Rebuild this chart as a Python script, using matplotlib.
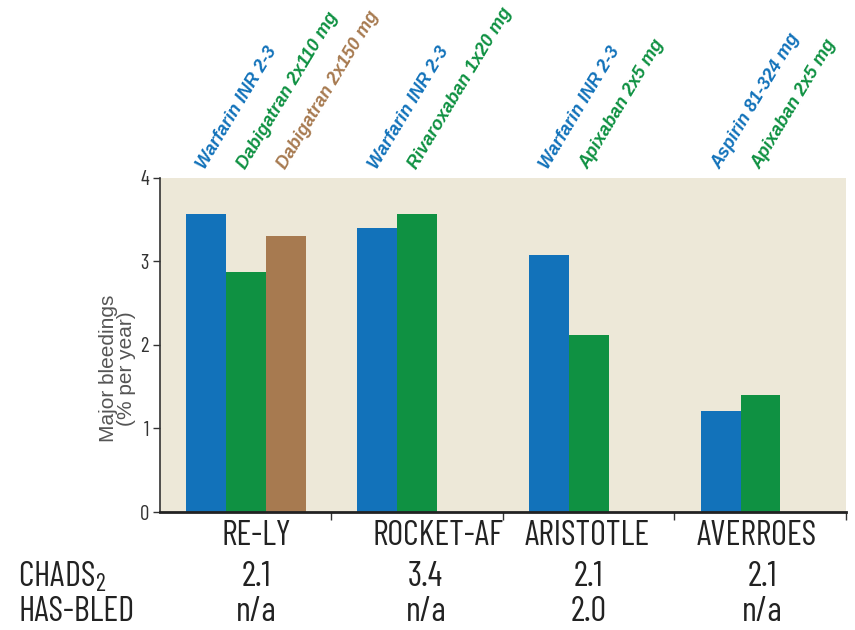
import matplotlib
matplotlib.use("Agg")
import matplotlib.pyplot as plt
import matplotlib.transforms as mtransforms

# Trials and their arms
trials = ["RE-LY", "ROCKET-AF", "ARISTOTLE", "AVERROES"]
arm_labels = [
    ["Warfarin INR 2-3", "Dabigatran 2x110 mg", "Dabigatran 2x150 mg"],
    ["Warfarin INR 2-3", "Rivaroxaban 1x20 mg"],
    ["Warfarin INR 2-3", "Apixaban 2x5 mg"],
    ["Aspirin 81-324 mg", "Apixaban 2x5 mg"],
]
# Major bleedings, % per year
arm_values = [
    [3.57, 2.87, 3.31],
    [3.40, 3.57],
    [3.08, 2.12],
    [1.21, 1.40],
]
arm_kinds = [
    ["ref", "low", "high"],
    ["ref", "low"],
    ["ref", "low"],
    ["ref", "low"],
]
chads2 = ["2.1", "3.4", "2.1", "2.1"]
has_bled = ["n/a", "n/a", "2.0", "n/a"]
y_ticks = [0, 1, 2, 3, 4]

colors = {"ref": "#1272BA", "low": "#0F9142", "high": "#A77A50"}
bg = "#EDE8D8"
ink = "#222222"

narrow = ["Barlow Condensed", "DejaVu Sans"]
arm_font = ["Liberation Sans", "DejaVu Sans"]
plt.rcParams["mathtext.default"] = "regular"

fig = plt.figure(figsize=(8.55, 6.30), dpi=100)
ax = fig.add_axes([0.187, 0.1873, 0.8025, 0.5302])
ax.set_facecolor(bg)

bar_w = 0.233
offset = 0.152
for g, (vals, kinds, labs) in enumerate(zip(arm_values, arm_kinds, arm_labels)):
    for i, (v, k, lab) in enumerate(zip(vals, kinds, labs)):
        x0 = g + offset + i * bar_w
        ax.bar(x0, v, width=bar_w, align="edge", color=colors[k], linewidth=0)
        tr = ax.get_xaxis_transform() + mtransforms.ScaledTranslation(
            2 / 72, 4 / 72, fig.dpi_scale_trans)
        ax.text(x0 + bar_w * 0.5, 1.0, lab, transform=tr, rotation=59,
                rotation_mode="anchor", ha="left", va="bottom",
                color=colors[k], fontsize=13, fontweight="bold",
                fontstyle="italic", family=arm_font)

ax.set_xlim(0, len(trials))
ax.set_ylim(0, 4)

for s in ["top", "right"]:
    ax.spines[s].set_visible(False)
ax.spines["bottom"].set_color(ink)
ax.spines["bottom"].set_linewidth(2.0)
ax.spines["left"].set_color("#333333")
ax.spines["left"].set_linewidth(1.2)

ax.set_yticks(y_ticks)
ax.set_yticklabels([str(t) for t in y_ticks], family=narrow, fontsize=15,
                   color="#333333")
ax.tick_params(axis="y", length=5, width=1, color="#333333", pad=3)

ax.set_xticks(range(1, len(trials) + 1))
ax.set_xticklabels([])
ax.tick_params(axis="x", length=6, width=1, color="#333333", direction="out")

# Trial names under the axis
name_x = [0.56, 1.62, 2.49, 3.48]
for x, name in zip(name_x, trials):
    ax.text(x, -0.09, name, transform=ax.transData, ha="center", va="top",
            family=narrow, fontsize=25, color=ink, clip_on=False)

ax.set_ylabel("Major bleedings\n(% per year)", family=["Liberation Sans"],
              fontsize=15, color="#555555", linespacing=0.9)
ax.yaxis.set_label_coords(-0.035, 0.43)

# Baseline characteristics under each trial
row_y = [577, 612]
for y_px, lab in zip(row_y, ["CHADS$_2$", "HAS-BLED"]):
    fig.text(18 / 855, 1 - y_px / 630, lab, ha="left", va="center",
             family=narrow, fontsize=25, color=ink)
value_x = [0.56, 1.55, 2.50, 3.51]
for g, x in enumerate(value_x):
    xf = ax.transData.transform((x, 0))[0] / fig.bbox.width
    fig.text(xf, 1 - row_y[0] / 630, chads2[g], ha="center", va="center",
             family=narrow, fontsize=25, color=ink)
    fig.text(xf, 1 - row_y[1] / 630, has_bled[g], ha="center", va="center",
             family=narrow, fontsize=25, color=ink)

fig.savefig("out.png", dpi=100, facecolor="white")
